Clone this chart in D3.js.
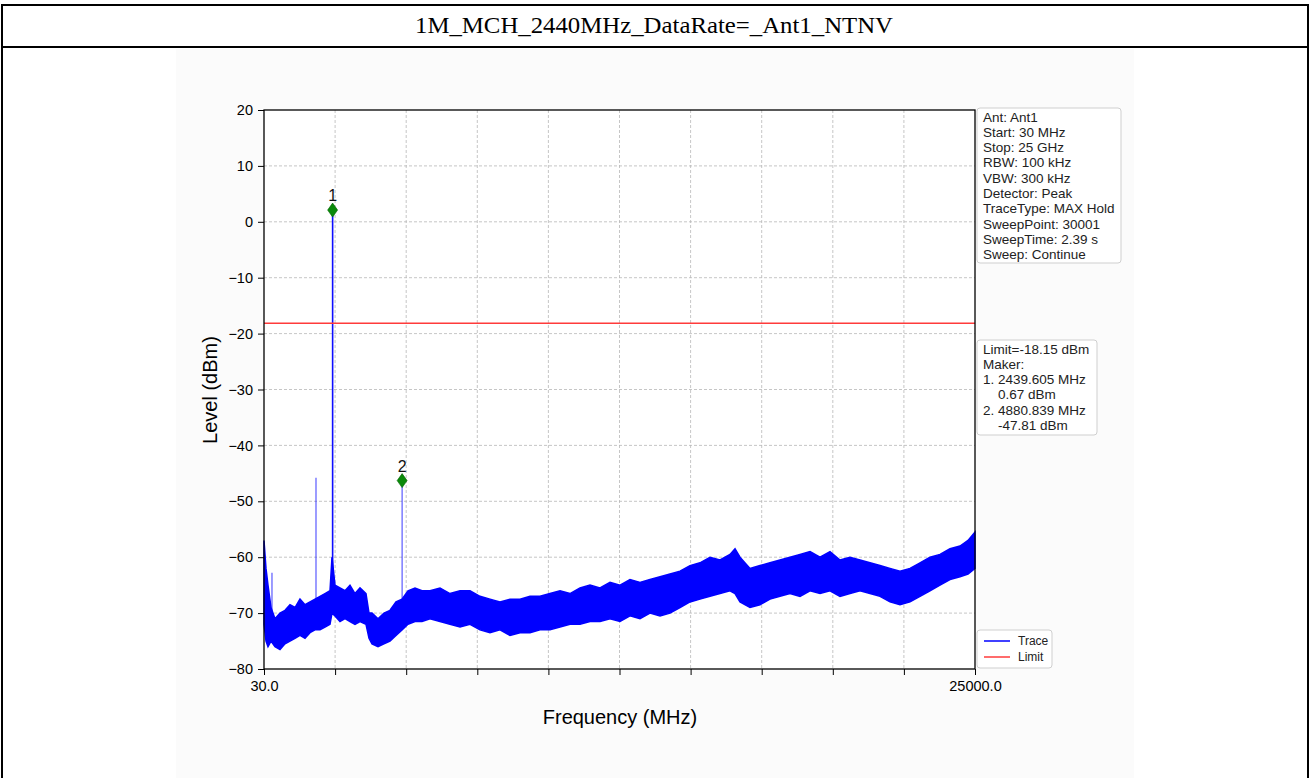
<!DOCTYPE html>
<html><head><meta charset="utf-8">
<script src="https://cdn.jsdelivr.net/npm/d3@7"></script>
<style>
html,body{margin:0;padding:0;background:#fff;}
svg{display:block;}
text{font-family:"Liberation Sans",Arial,sans-serif;}
</style></head>
<body>
<svg id="chart" width="1310" height="778"></svg>
<script>
// ---------- data ----------
const titleText = "1M_MCH_2440MHz_DataRate=_Ant1_NTNV";
const yTicks = [-80, -70, -60, -50, -40, -30, -20, -10, 0, 10, 20];
const xTickCount = 10;
const xTickLabels = ["30.0", "25000.0"];
const freqStart = 30, freqStop = 25000;
const limitLevel = -18.15;

// noise envelope of the trace (MHz, upper dBm, lower dBm)
const envFreq = [30,100,170,276,416,592,768,943,1119,1294,1470,1646,1821,1997,2172,2348,2418,2524,2699,2875,3050,3226,3402,3612,3718,3823,4034,4244,4455,4666,4877,5087,5333,5579,5860,6211,6562,6914,7265,7616,7967,8318,8670,9021,9372,9723,10074,10426,10777,11128,11479,11830,12182,12533,12884,13235,13586,13938,14289,14640,14991,15342,15694,16045,16396,16572,16747,17098,17450,17801,18152,18503,18854,19206,19557,19908,20259,20610,20962,21313,21664,22015,22366,22718,23069,23420,23771,24122,24474,24755,25000];
const envHigh = [-57,-62,-65,-69,-71,-70,-69.5,-68.5,-69,-67.5,-68.5,-68,-67.5,-67,-66.5,-66,-60,-65,-65.5,-66,-65,-66.5,-65.5,-66.5,-70,-70,-71,-70,-69.5,-68,-67.5,-66,-65.5,-66,-66,-65.5,-66.5,-66,-66,-67,-67.5,-68,-67.5,-67.5,-67,-67,-66.5,-66,-66.5,-65.5,-65,-65.5,-64.5,-65,-64,-64.5,-64,-63.5,-63,-62.5,-61.5,-61,-60,-60.5,-59.5,-58.5,-60,-62,-61.5,-61,-60.5,-60,-59.5,-59,-60,-59,-60.5,-60,-60.5,-61,-61.5,-62,-62.5,-62,-61,-60,-59.5,-58.5,-58,-57,-55.5];
const envLow = [-72,-75,-76,-75,-76,-76.5,-75.5,-75,-74.5,-74,-74.5,-73.5,-73,-73,-72.5,-72,-70,-70.5,-71.5,-71,-71.5,-72,-71.5,-72,-74.5,-75.5,-76,-75.5,-75,-74,-73,-72,-71.5,-71.5,-71,-71.5,-72,-72.5,-72,-73,-73.5,-73,-74,-73.5,-73.5,-73,-73,-72.5,-72,-72,-71.5,-71.5,-71,-71.5,-70.5,-71,-70,-70.5,-70,-69,-68,-67.5,-67,-66.5,-66,-66.5,-68,-69,-68.5,-67.5,-67,-66.5,-67,-66,-66.5,-66,-67,-66.5,-66,-66.5,-67,-68,-68.5,-68,-67,-66,-65,-64,-63.5,-63,-62];

// narrow spikes (MHz, base dBm, peak dBm)
const spikeFreq = [310, 1856, 2440, 4881];
const spikeBase = [-72, -70, -68, -70];
const spikePeak = [-62.8, -45.8, 2.1, -46.3];

// markers
const markerNames = ["1", "2"];
const markerFreq = [2439.605, 4880.839];
const markerLevel = [2.1, -46.3];

const infoLines = ["Ant: Ant1","Start: 30 MHz","Stop: 25 GHz","RBW: 100 kHz","VBW: 300 kHz","Detector: Peak","TraceType: MAX Hold","SweepPoint: 30001","SweepTime: 2.39 s","Sweep: Continue"];
const limitLines = ["Limit=-18.15 dBm","Maker:","1. 2439.605 MHz","    0.67 dBm","2. 4880.839 MHz","    -47.81 dBm"];
const legendNames = ["Trace", "Limit"];
const legendColors = ["#0000ff", "#ff3b3b"];

// ---------- drawing ----------
(function(){
const svg = d3.select("#chart");

// frame / table
svg.append("rect").attr("x",176).attr("y",49).attr("width",958).attr("height",729).attr("fill","#fbfbfb");
const frame = svg.append("g").attr("stroke","#000").attr("stroke-width",2);
frame.append("line").attr("x1",2).attr("x2",1308).attr("y1",5).attr("y2",5);
frame.append("line").attr("x1",2).attr("x2",1308).attr("y1",47).attr("y2",47);
frame.append("line").attr("x1",2).attr("x2",2).attr("y1",4).attr("y2",778);
frame.append("line").attr("x1",1308).attr("x2",1308).attr("y1",4).attr("y2",778);

svg.append("text").attr("x",654).attr("y",33).attr("text-anchor","middle")
  .style("font-family",'"Liberation Serif","Times New Roman",serif').style("font-size","24px")
  .attr("textLength",478).attr("lengthAdjust","spacingAndGlyphs")
  .text(titleText);

const pL = 264, pR = 975, pT = 110, pB = 669;
const x = d3.scaleLinear().domain([freqStart, freqStop]).range([pL, pR]);
const y = d3.scaleLinear().domain([-80, 20]).range([pB, pT]);

svg.append("rect").attr("x",pL).attr("y",pT).attr("width",pR-pL).attr("height",pB-pT).attr("fill","#fff");

// grid
const xTickVals = d3.range(xTickCount + 1).map(i => freqStart + i * (freqStop - freqStart) / xTickCount);
const grid = svg.append("g").attr("stroke","#b8b8b8").attr("stroke-width",0.8).attr("stroke-dasharray","3,2");
grid.selectAll(".gx").data(xTickVals.slice(1,-1)).join("line")
  .attr("x1",d=>x(d)).attr("x2",d=>x(d)).attr("y1",pT).attr("y2",pB);
grid.selectAll(".gy").data(yTicks.slice(1,-1)).join("line")
  .attr("x1",pL).attr("x2",pR).attr("y1",d=>y(d)).attr("y2",d=>y(d));

// trace
const env = envFreq.map((f,i)=>({f, hi: envHigh[i], lo: envLow[i]}));
const area = d3.area().x(d=>x(d.f)).y0(d=>y(d.lo)).y1(d=>y(d.hi));
svg.append("path").datum(env).attr("d",area).attr("fill","#0000ff").attr("stroke","#0000ff").attr("stroke-width",1.5);

svg.append("g").selectAll("line").data(spikeFreq).join("line")
  .attr("x1",d=>x(d)).attr("x2",d=>x(d))
  .attr("y1",(d,i)=>y(spikeBase[i])).attr("y2",(d,i)=>y(spikePeak[i]))
  .attr("stroke","#0000ff").attr("stroke-width",(d,i)=> i===2 ? 1.6 : 1.3)
  .attr("stroke-opacity",(d,i)=> i===2 ? 0.95 : 0.6);

// limit
svg.append("line").attr("x1",pL).attr("x2",pR).attr("y1",y(limitLevel)).attr("y2",y(limitLevel))
  .attr("stroke","#ff3b3b").attr("stroke-width",1.6);

// markers
const mk = svg.append("g");
mk.selectAll("path").data(markerFreq).join("path")
  .attr("d", "M0,-7 L5,0 L0,7 L-5,0 Z")
  .attr("transform",(d,i)=>`translate(${x(d)},${y(markerLevel[i])})`)
  .attr("fill","#0a8a0a").attr("stroke","#006400").attr("stroke-width",0.6);
mk.selectAll("text").data(markerFreq).join("text")
  .attr("x",d=>x(d)).attr("y",(d,i)=>y(markerLevel[i]) - 9)
  .attr("text-anchor","middle").style("font-size","16px").attr("fill","#111")
  .text((d,i)=>markerNames[i]);

// axes
const yAxis = d3.axisLeft(y).tickValues(yTicks).tickSize(6).tickPadding(5).tickFormat(d3.format("d"));
const gy = svg.append("g").attr("transform",`translate(${pL},0)`).call(yAxis);
gy.selectAll("text").style("font-size","14.5px").attr("fill","#000");
const xAxis = d3.axisBottom(x).tickValues(xTickVals).tickSize(6).tickPadding(6)
  .tickFormat((d,i)=> i===0 ? xTickLabels[0] : (i===xTickCount ? xTickLabels[1] : ""));
const gx = svg.append("g").attr("transform",`translate(0,${pB})`).call(xAxis);
gx.selectAll("text").style("font-size","14.5px").attr("fill","#000");
[gx, gy].forEach(g=>{ g.select(".domain").remove(); g.selectAll("line").attr("stroke","#000"); });

svg.append("rect").attr("x",pL).attr("y",pT).attr("width",pR-pL).attr("height",pB-pT)
  .attr("fill","none").attr("stroke","#000").attr("stroke-width",1.3);

svg.append("text").attr("x",620).attr("y",724).attr("text-anchor","middle").style("font-size","20px").text("Frequency (MHz)");
svg.append("text").attr("transform","translate(217,390) rotate(-90)").attr("text-anchor","middle").style("font-size","20px").text("Level (dBm)");

// info boxes
function box(x0, y0, w, h, lines, lh){
  const g = svg.append("g");
  g.append("rect").attr("x",x0).attr("y",y0).attr("width",w).attr("height",h).attr("rx",3)
    .attr("fill","#fff").attr("stroke","#cfcfcf").attr("stroke-width",1);
  g.selectAll("text").data(lines).join("text")
    .attr("x",x0+6).attr("y",(d,i)=>y0+13.5+i*lh)
    .style("font-size","13.5px").style("white-space","pre").attr("xml:space","preserve").attr("fill","#222").text(d=>d);
}
box(977, 108, 144, 155, infoLines, 15.3);
box(977, 340, 120, 95, limitLines, 15.3);

const lg = svg.append("g");
lg.append("rect").attr("x",977).attr("y",630).attr("width",75).attr("height",38).attr("rx",3)
  .attr("fill","#fff").attr("stroke","#cfcfcf");
legendNames.forEach((n,i)=>{
  lg.append("line").attr("x1",984).attr("x2",1010).attr("y1",641+i*16).attr("y2",641+i*16)
    .attr("stroke",legendColors[i]).attr("stroke-width",1.5);
  lg.append("text").attr("x",1018).attr("y",645+i*16).style("font-size","12px").attr("fill","#222").text(n);
});
})();
</script>
</body></html>
